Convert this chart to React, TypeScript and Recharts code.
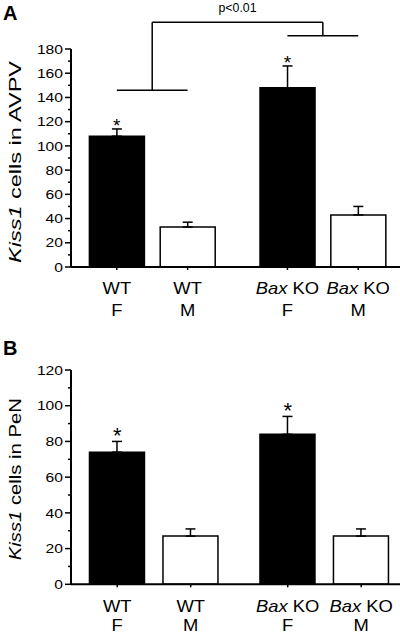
import React from 'react'
import {
  BarChart,
  Bar,
  XAxis,
  YAxis,
  Cell,
  ErrorBar,
  ReferenceLine,
  ReferenceDot,
} from 'recharts'

const FONT = '"Liberation Sans", Arial, Helvetica, sans-serif'

const genotypes = ['WT', 'WT', 'Bax KO', 'Bax KO']
const sexes = ['F', 'M', 'F', 'M']
const starred = [true, false, true, false]

// panel A - AVPV
const avpvMean = [108, 33, 148, 43]
const avpvSem = [6, 4, 18, 7]
const avpvTicks = [0, 10, 20, 30, 40, 50, 60, 70, 80, 90, 100, 110, 120, 130, 140, 150, 160, 170, 180]

// panel B - PeN
const penMean = [74, 27, 84, 27]
const penSem = [6, 4, 10, 4]
const penTicks = [0, 10, 20, 30, 40, 50, 60, 70, 80, 90, 100, 110, 120]

// bracket levels for the p<0.01 comparison in panel A
const wtBracketLevel = 146
const koBracketLevel = 191
const topBracketLevel = 202

const YTick = (props: any) => {
  const { x, y, payload } = props
  const v = payload.value as number
  const major = v % 20 === 0
  const label = String(v)
  return (
    <g>
      <line x1={x - (major ? 6 : 3)} x2={x} y1={y} y2={y} stroke="#000" strokeWidth={1.5} />
      {major && (
        <text
          x={x - 8}
          y={y + 4.7}
          textAnchor="end"
          fontSize={13}
          fontFamily={FONT}
          fill="#000"
          textLength={label.length * 8.7}
          lengthAdjust="spacingAndGlyphs"
        >
          {label}
        </text>
      )}
    </g>
  )
}

const XTick = (props: any) => {
  const { x, y, index, line1, line2 } = props
  const g = genotypes[index]
  return (
    <g transform={`translate(${x},${y})`}>
      <line x1={0} x2={0} y1={0} y2={3} stroke="#000" strokeWidth={1.5} />
      <g transform="scale(1.15,1)">
        <text y={line1} textAnchor="middle" fontSize={16} fontFamily={FONT} fill="#000">
          {g.startsWith('Bax') ? (
            <>
              <tspan fontStyle="italic">Bax</tspan>
              {' KO'}
            </>
          ) : (
            g
          )}
        </text>
        <text y={line2} textAnchor="middle" fontSize={16} fontFamily={FONT} fill="#000">
          {sexes[index]}
        </text>
      </g>
    </g>
  )
}

const YTitle = (props: any) => {
  const { viewBox, region, length, shift } = props
  const cy = viewBox.y + viewBox.height / 2 + shift
  return (
    <text
      transform={`translate(20.5,${cy}) rotate(-90)`}
      textAnchor="middle"
      fontSize={16}
      fontFamily={FONT}
      fill="#000"
      textLength={length}
      lengthAdjust="spacingAndGlyphs"
    >
      <tspan fontStyle="italic">Kiss1</tspan>
      {` cells in ${region}`}
    </text>
  )
}

// text centred above a reference mark
const AboveLabel = (props: any) => {
  const { viewBox, text, size, lift, length } = props
  const cx = viewBox.x + (viewBox.width || 0) / 2
  return (
    <text
      x={cx}
      y={viewBox.y - lift}
      textAnchor="middle"
      fontSize={size}
      fontFamily={FONT}
      fill="#000"
      textLength={length}
      lengthAdjust={length ? 'spacingAndGlyphs' : undefined}
    >
      {text}
    </text>
  )
}

interface PanelProps {
  mean: number[]
  sem: number[]
  yTicks: number[]
  region: string
  titleLength: number
  titleShift: number
  gap: number
  xDomain: [number, number]
  height: number
  marginTop: number
  xAxisHeight: number
  labelLines: [number, number]
  starSize: number
  starLift: number
  bracket?: boolean
}

function Panel({
  mean,
  sem,
  yTicks,
  region,
  titleLength,
  titleShift,
  gap,
  xDomain,
  height,
  marginTop,
  xAxisHeight,
  labelLines,
  starSize,
  starLift,
  bracket,
}: PanelProps) {
  const rows = mean.map((m, i) => ({
    pos: i + (i >= 2 ? gap : 0),
    mean: m,
    err: [0, sem[i]],
  }))
  const wtMid = (rows[0].pos + rows[1].pos) / 2
  const koMid = (rows[2].pos + rows[3].pos) / 2
  const line = { stroke: '#000', strokeWidth: 1.5, ifOverflow: 'visible' as const }

  return (
    <BarChart
      width={400}
      height={height}
      data={rows}
      margin={{ top: marginTop, right: 0, bottom: 0, left: 0 }}
      style={{ fontFamily: FONT }}
    >
      <XAxis
        dataKey="pos"
        type="number"
        domain={xDomain}
        allowDataOverflow
        ticks={rows.map((r) => r.pos)}
        interval={0}
        tick={<XTick line1={labelLines[0]} line2={labelLines[1]} />}
        tickSize={0}
        tickMargin={0}
        tickLine={false}
        height={xAxisHeight}
        axisLine={{ stroke: '#000', strokeWidth: 2 }}
      />
      <YAxis
        type="number"
        domain={[0, yTicks[yTicks.length - 1]]}
        allowDataOverflow
        ticks={yTicks}
        interval={0}
        width={71}
        tick={<YTick />}
        tickSize={0}
        tickMargin={0}
        tickLine={false}
        axisLine={{ stroke: '#000', strokeWidth: 2 }}
        label={<YTitle region={region} length={titleLength} shift={titleShift} />}
      />
      <Bar dataKey="mean" barSize={55} isAnimationActive={false} stroke="#000" strokeWidth={1.5}>
        {rows.map((_, i) => (
          <Cell key={`cell-${i}`} fill={sexes[i] === 'F' ? '#000' : '#fff'} />
        ))}
        <ErrorBar
          dataKey="err"
          direction="y"
          width={5}
          stroke="#000"
          strokeWidth={1.5}
          isAnimationActive={false}
        />
      </Bar>
      {rows.map((r, i) =>
        starred[i] ? (
          <ReferenceDot
            key={`star-${i}`}
            x={r.pos}
            y={r.mean + sem[i]}
            r={0}
            fill="none"
            stroke="none"
            ifOverflow="visible"
            label={<AboveLabel text="*" size={starSize} lift={starLift} />}
          />
        ) : null
      )}
      {bracket && (
        <ReferenceLine
          segment={[
            { x: rows[0].pos, y: wtBracketLevel },
            { x: rows[1].pos, y: wtBracketLevel },
          ]}
          {...line}
        />
      )}
      {bracket && (
        <ReferenceLine
          segment={[
            { x: rows[2].pos, y: koBracketLevel },
            { x: rows[3].pos, y: koBracketLevel },
          ]}
          {...line}
        />
      )}
      {bracket && (
        <ReferenceLine
          segment={[
            { x: wtMid, y: wtBracketLevel },
            { x: wtMid, y: topBracketLevel },
          ]}
          {...line}
        />
      )}
      {bracket && (
        <ReferenceLine
          segment={[
            { x: koMid, y: koBracketLevel },
            { x: koMid, y: topBracketLevel },
          ]}
          {...line}
        />
      )}
      {bracket && (
        <ReferenceLine
          segment={[
            { x: wtMid, y: topBracketLevel },
            { x: koMid, y: topBracketLevel },
          ]}
          {...line}
          label={<AboveLabel text="p<0.01" size={12} lift={10} length={38} />}
        />
      )}
    </BarChart>
  )
}

export default function App() {
  return (
    <div
      style={{
        position: 'absolute',
        left: 0,
        top: 0,
        width: 400,
        height: 635,
        background: '#fff',
        overflow: 'hidden',
        fontFamily: FONT,
      }}
    >
      <div style={{ position: 'absolute', left: 0, top: 0 }}>
        <Panel
          mean={avpvMean}
          sem={avpvSem}
          yTicks={avpvTicks}
          region="AVPV"
          titleLength={202}
          titleShift={4}
          gap={0.41}
          xDomain={[-0.647, 4.0]}
          height={320}
          marginTop={49}
          xAxisHeight={53}
          labelLines={[27, 49]}
          starSize={19}
          starLift={-3}
          bracket
        />
      </div>
      <div style={{ position: 'absolute', left: 0, top: 320 }}>
        <Panel
          mean={penMean}
          sem={penSem}
          yTicks={penTicks}
          region="PeN"
          titleLength={162}
          titleShift={2}
          gap={0.32}
          xDomain={[-0.629, 3.848]}
          height={315}
          marginTop={50}
          xAxisHeight={50.7}
          labelLines={[28, 46.5]}
          starSize={22}
          starLift={-2}
        />
      </div>
      <svg
        width={400}
        height={635}
        style={{ position: 'absolute', left: 0, top: 0, pointerEvents: 'none' }}
      >
        <text x={3} y={19.5} fontSize={20} fontWeight="bold" fontFamily={FONT} fill="#000">
          A
        </text>
        <text x={3} y={355} fontSize={20} fontWeight="bold" fontFamily={FONT} fill="#000">
          B
        </text>
      </svg>
    </div>
  )
}
